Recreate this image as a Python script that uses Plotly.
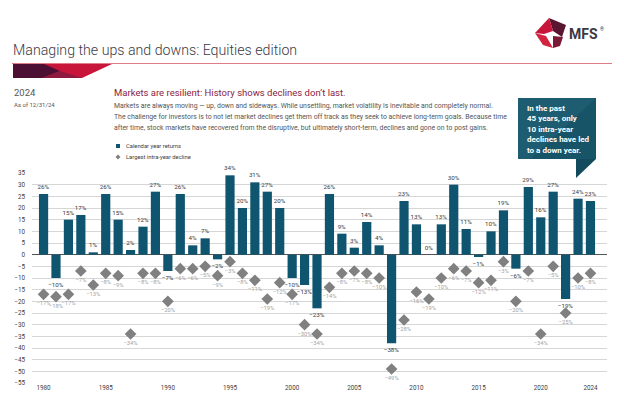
import plotly.graph_objects as go

years = list(range(1980, 2025))
calendar_returns = [26, -10, 15, 17, 1, 26, 15, 2, 12, 27,
                    -7, 26, 4, 7, -2, 34, 20, 31, 27, 20,
                    -10, -13, -23, 26, 9, 3, 14, 4, -38, 23,
                    13, 0, 13, 30, 11, -1, 10, 19, -6, 29,
                    16, 27, -19, 24, 23]
intra_year_decline = [-17, -18, -17, -7, -13, -8, -9, -34, -8, -8,
                      -20, -6, -6, -5, -9, -3, -8, -11, -19, -12,
                      -17, -30, -34, -14, -8, -7, -8, -10, -49, -28,
                      -16, -19, -10, -6, -7, -12, -11, -3, -20, -7,
                      -34, -5, -25, -10, -8]
x_tick_vals = [1980, 1985, 1990, 1995, 2000, 2005, 2010, 2015, 2020, 2024]
y_tick_vals = list(range(-55, 40, 5))

W, H = 624, 396
L, R, T, B = 32, 17, 173, 13
PW, PH = W - L - R, H - T - B

def px(x):
    return (x - L) / PW

def py(y):
    return (H - B - y) / PH

def fmt(v):
    return (f"{v}%").replace("-", "\u2212")

BAR = "#0f5570"
FONT = "Roboto, Arial, sans-serif"

fig = go.Figure()
fig.add_trace(go.Bar(
    x=years, y=calendar_returns, width=0.74,
    marker=dict(color=BAR, line=dict(width=0)),
    text=[fmt(v) for v in calendar_returns], textposition="outside",
    textfont=dict(size=6.2, color="#3a3a3a", family=FONT),
    constraintext="none", cliponaxis=False, showlegend=False,
))
fig.add_trace(go.Scatter(
    x=years, y=intra_year_decline, mode="markers+text",
    marker=dict(symbol="diamond", size=9, color="#808080"),
    text=[fmt(v) for v in intra_year_decline], textposition="bottom center",
    textfont=dict(size=5.8, color="#a3a3a3", family=FONT),
    cliponaxis=False, showlegend=False,
))

shapes = []
annots = []

def poly(pts, color):
    path = "M " + " L ".join(f"{px(a)},{py(b)}" for a, b in pts) + " Z"
    shapes.append(dict(type="path", xref="paper", yref="paper", path=path,
                       fillcolor=color, line=dict(width=0), layer="above"))

def text(x, y, s, size, color, anchor="left", family=FONT, weight=None):
    f = dict(size=size, color=color, family=family)
    if weight:
        f["weight"] = weight
    annots.append(dict(x=px(x), y=py(y), xref="paper", yref="paper", text=s,
                       showarrow=False, xanchor=anchor, yanchor="middle", font=f))

# Title & rule
text(11, 50, "Managing the ups and downs: Equities edition", 14.2, "#3b3844", weight=300)
shapes.append(dict(type="line", xref="paper", yref="paper", x0=px(12), x1=px(612),
                   y0=py(63.5), y1=py(63.5), line=dict(color="#e07a86", width=1)))
# Banner
poly([(13, 64), (112, 64), (82, 78), (13, 78)], "#c8163a")
poly([(13, 64), (44, 64), (60, 71), (42, 78), (13, 78)], "#4b1034")
poly([(42, 78), (60, 71), (82, 78)], "#8e1a40")

# Logo
poly([(549, 18), (566, 25), (562, 37), (553, 31)], "#5a1530")
poly([(535, 33), (549, 18), (553, 31), (544, 34)], "#c8163a")
poly([(535, 33), (546, 36), (553, 48), (543, 45)], "#d0243f")
poly([(553, 36), (563, 37), (560, 46), (553, 48)], "#7a1a36")
text(567, 34, "<b>MFS</b>", 14, "#3b3844")
text(598, 29, "\u00ae", 5, "#3b3844")

# Left side
text(12, 92, "2024", 9.5, "#555555")
text(12, 104, "As of 12/31/24", 6, "#555555")

# Subtitle & paragraph
text(112, 92, "Markets are resilient: History shows declines don\u2019t last.", 9.5, "#8a1c3f")
para = [
    "Markets are always moving \u2014 up, down and sideways. While unsettling, market volatility is inevitable and completely normal.",
    "The challenge for investors is to not let market declines get them off track as they seek to achieve long-term goals. Because time",
    "after time, stock markets have recovered from the disruptive, but ultimately short-term, declines and gone on to post gains.",
]
for i, line in enumerate(para):
    text(112, 106 + i * 11, line, 6.9, "#555555")

# Legend
shapes.append(dict(type="rect", xref="paper", yref="paper", x0=px(116), x1=px(120),
                   y0=py(148), y1=py(144), fillcolor=BAR, line=dict(width=0)))
poly([(118, 154.5), (120.5, 157), (118, 159.5), (115.5, 157)], "#808080")
text(124, 146, "Calendar year returns", 5.8, "#404040")
text(124, 157, "Largest intra-year decline", 5.8, "#404040")

# Callout box
poly([(518, 98), (596, 98), (596, 159), (518, 159)], "#1e5d71")
poly([(596, 98), (596, 159), (530, 159)], "#185468")
poly([(576, 159), (596, 159), (576, 178)], "#134b5e")
box_lines = ["In the past", "45 years, only", "10 intra-year", "declines have led", "to a down year."]
for i, line in enumerate(box_lines):
    text(525, 108 + i * 10.5, line, 8, "#ffffff", weight=700)

fig.update_layout(
    width=W, height=H, margin=dict(l=L, r=R, t=T, b=B, autoexpand=False),
    paper_bgcolor="white", plot_bgcolor="white",
    shapes=shapes, annotations=annots, bargap=0.2,
    xaxis=dict(range=[1979.07, 2025.33], tickvals=x_tick_vals, showgrid=False,
               zeroline=False, showline=False, ticks="", automargin=False,
               tickfont=dict(size=6.3, color="#404040", family=FONT)),
    yaxis=dict(range=[-55, 35], tickvals=y_tick_vals, showgrid=True,
               gridcolor="#d6d6d6", gridwidth=1, zeroline=True,
               zerolinecolor="#555555", zerolinewidth=1.2, showline=False,
               ticks="", ticklabelstandoff=6, automargin=False,
               tickfont=dict(size=6.3, color="#404040", family=FONT)),
)

fig.write_html("out.html", config={"displayModeBar": False},
               post_script="document.body.style.margin='0';document.body.style.overflow='hidden';")
